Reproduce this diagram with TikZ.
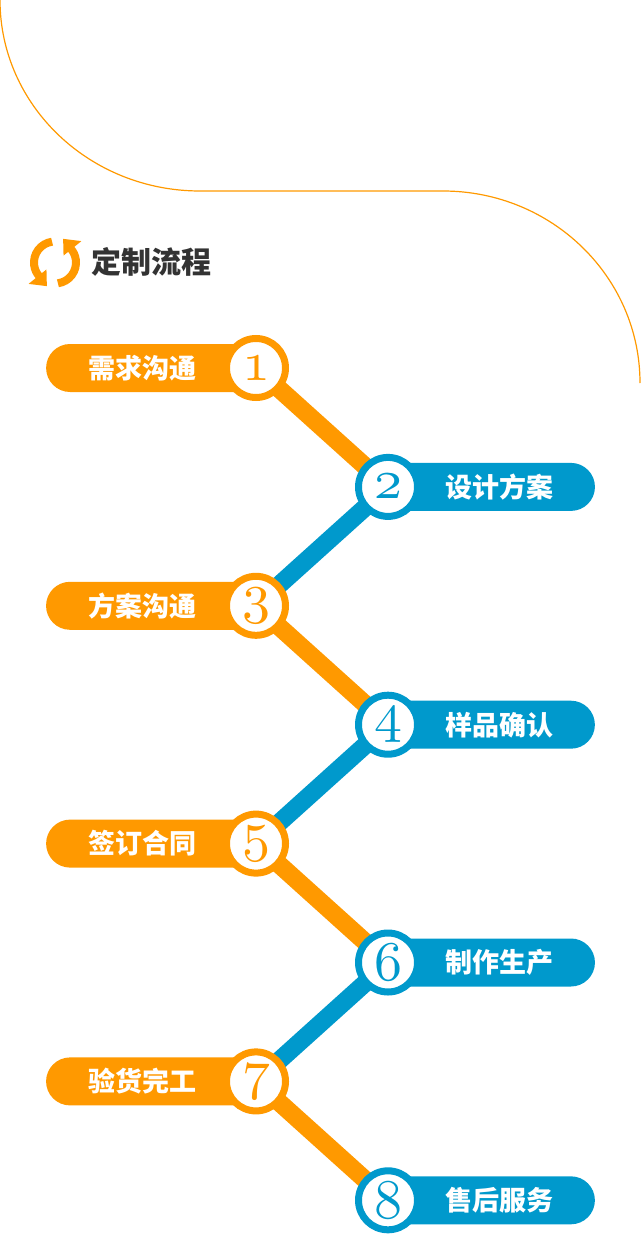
\documentclass[tikz,border=0pt]{standalone}
\usepackage{fontspec}
\newfontfamily\cjk{Noto Sans CJK SC}
\usetikzlibrary{positioning,calc,shapes.misc,backgrounds}

\definecolor{flowOrange}{HTML}{FF9900}
\definecolor{flowBlue}{HTML}{0099CC}
\definecolor{titleGray}{HTML}{333333}

\newcommand{\stepnum}[1]{\scalebox{5.6}{\fontsize{10}{10}\usefont{OML}{cmm}{m}{it}#1}}

\tikzset{
	numring/.style={circle, draw=#1, fill=white, line width=7pt, minimum size=59pt, inner sep=0pt, text=#1},
	pill/.style={rounded rectangle, fill=#1, minimum width=188pt, minimum height=48pt, inner sep=0pt, text=white, font=\cjk\bfseries\fontsize{27}{27}\selectfont},
	leftpill/.style={pill=flowOrange, rounded rectangle right arc=none},
	rightpill/.style={pill=flowBlue, rounded rectangle left arc=none},
	bar/.style={draw=#1, line width=18pt},
}

\begin{document}
\begin{tikzpicture}[x=1pt, y=1pt, on grid, node distance=118.9pt and 132pt]
		\useasboundingbox (0,0) rectangle (640,-1236);
		% Top curve
		\draw[flowOrange, line width=1.2pt] (0,0) arc[start angle=180, end angle=270, x radius=200, y radius=191]
			-- (443,-191) arc[start angle=90, end angle=0, x radius=197, y radius=192];
		% Icon and title
		\begin{scope}[shift={(55,-262.5)}, flowOrange]
			\draw[line width=8pt] (98:21) arc[start angle=98, end angle=221, radius=21];
			\fill (219:11) -- (219:34) -- (251:25) -- cycle;
			\draw[line width=8pt] (278:21) arc[start angle=278, end angle=401, radius=21];
			\fill (39:11) -- (39:34) -- (71:25) -- cycle;
		\end{scope}
		\node[anchor=west, inner sep=0pt, text=titleGray, font=\cjk\bfseries\fontsize{30}{30}\selectfont] (title) at (91,-262) {定制流程};
		% Nodes
		\node[numring=flowOrange] (s1) at (256,-368) {\stepnum{1}};
		\node[numring=flowBlue] (s2) [below right=of s1] {\stepnum{2}};
		\node[numring=flowOrange] (s3) [below left=of s2] {\stepnum{3}};
		\node[numring=flowBlue] (s4) [below right=of s3] {\stepnum{4}};
		\node[numring=flowOrange] (s5) [below left=of s4] {\stepnum{5}};
		\node[numring=flowBlue] (s6) [below right=of s5] {\stepnum{6}};
		\node[numring=flowOrange] (s7) [below left=of s6] {\stepnum{7}};
		\node[numring=flowBlue] (s8) [below right=of s7] {\stepnum{8}};
		% Labels and bars
		\begin{scope}[on background layer]
			\node[leftpill] (l1) [left=114pt of s1] {需求沟通};
			\node[rightpill] (l2) [right=111pt of s2] {设计方案};
			\node[leftpill] (l3) [left=114pt of s3] {方案沟通};
			\node[rightpill] (l4) [right=111pt of s4] {样品确认};
			\node[leftpill] (l5) [left=114pt of s5] {签订合同};
			\node[rightpill] (l6) [right=111pt of s6] {制作生产};
			\node[leftpill] (l7) [left=114pt of s7] {验货完工};
			\node[rightpill] (l8) [right=111pt of s8] {售后服务};
			\path
			(s1.center) edge[bar=flowOrange] (s2.center)
			(s2.center) edge[bar=flowBlue] (s3.center)
			(s3.center) edge[bar=flowOrange] (s4.center)
			(s4.center) edge[bar=flowBlue] (s5.center)
			(s5.center) edge[bar=flowOrange] (s6.center)
			(s6.center) edge[bar=flowBlue] (s7.center)
			(s7.center) edge[bar=flowOrange] (s8.center)
			;
		\end{scope}
	\end{tikzpicture}
\end{document}
